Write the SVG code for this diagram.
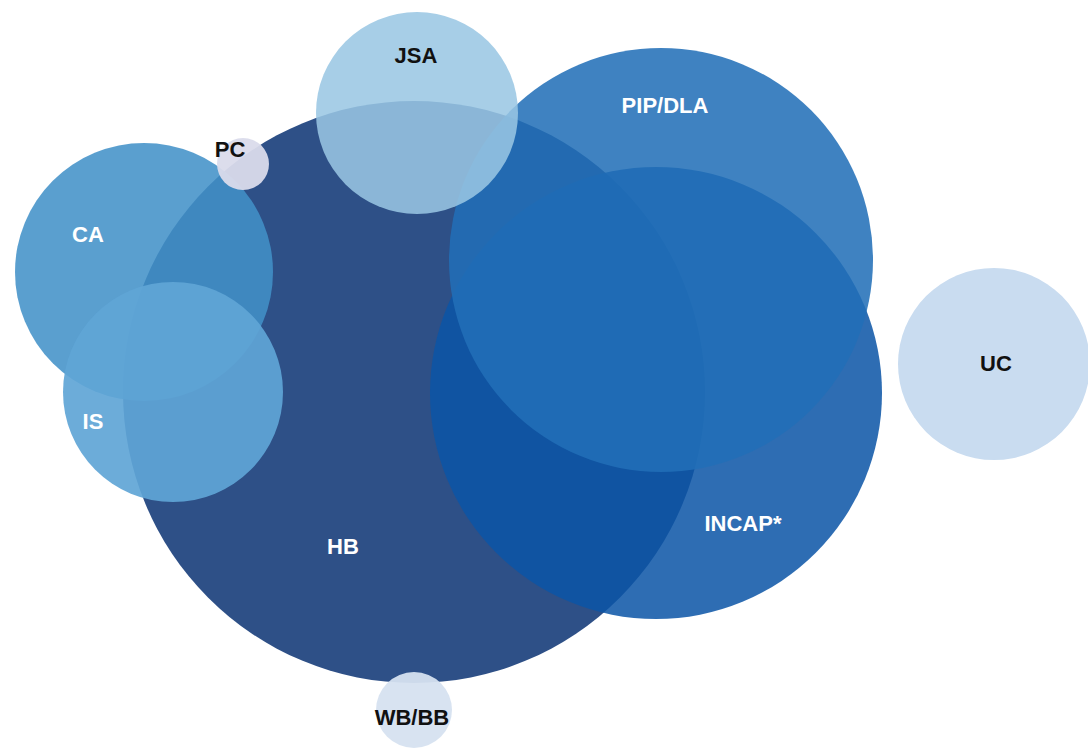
<svg xmlns="http://www.w3.org/2000/svg" width="1088" height="750" viewBox="0 0 1088 750">
<style>
text{font-family:"Liberation Sans",Arial,sans-serif;font-weight:bold;font-size:22px;text-anchor:middle}
.w{fill:#ffffff}
.k{fill:#111111}
</style>
<rect width="1088" height="750" fill="#ffffff"/>
<g id="HB"><circle cx="414" cy="392" r="291" fill="#2e5087"/></g>
<g id="INCAP"><circle cx="656" cy="393" r="226" fill="#0c55a6" fill-opacity="0.86"/></g>
<g id="PIP_DLA"><circle cx="661" cy="260" r="212" fill="#216fb7" fill-opacity="0.865"/></g>
<g id="CA"><circle cx="144" cy="272" r="129" fill="#4191c8" fill-opacity="0.87"/></g>
<g id="IS"><circle cx="173" cy="392" r="110" fill="#5fa5d6" fill-opacity="0.92"/></g>
<g id="JSA"><circle cx="417" cy="113" r="101" fill="#99c6e3" fill-opacity="0.865"/></g>
<g id="PC"><circle cx="243" cy="164" r="26" fill="#dadbeb" fill-opacity="0.95"/></g>
<g id="WB_BB"><circle cx="414" cy="710" r="38" fill="#d6e2f0" fill-opacity="0.95"/></g>
<g id="UC"><circle cx="994" cy="364" r="96" fill="#c9dcf0"/></g>
<g id="labels">
<text class="k" x="416" y="63">JSA</text>
<text class="w" x="665" y="113">PIP/DLA</text>
<text class="k" x="230" y="157">PC</text>
<text class="w" x="88" y="242">CA</text>
<text class="w" x="93" y="429">IS</text>
<text class="w" x="343" y="554">HB</text>
<text class="w" x="743" y="531">INCAP*</text>
<text class="k" x="996" y="371">UC</text>
<text class="k" x="412" y="725">WB/BB</text>
</g>
<g id="connectors"/>
</svg>
